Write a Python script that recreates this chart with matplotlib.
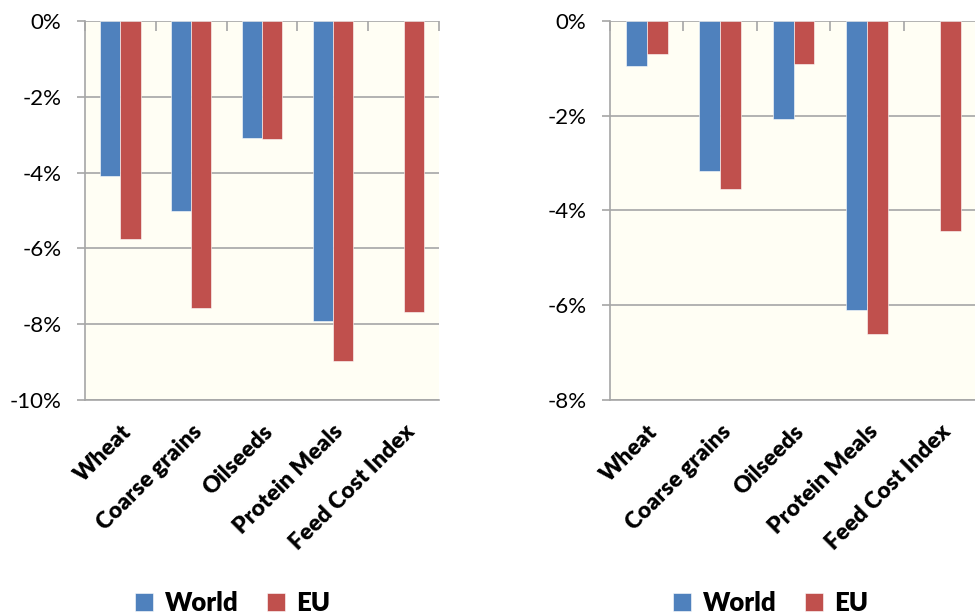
import matplotlib.pyplot as plt
import numpy as np
from matplotlib.ticker import FixedLocator

plt.rcParams['font.family'] = ['Lato', 'DejaVu Sans']

# Data (percent change); World has no Feed Cost Index bar
categories = ['Wheat', 'Coarse grains', 'Oilseeds', 'Protein Meals', 'Feed Cost Index']
world_left = [-4.1, -5.0, -3.1, -7.92, np.nan]
eu_left = [-5.75, -7.57, -3.12, -8.97, -7.68]
world_right = [-0.95, -3.16, -2.08, -6.10, np.nan]
eu_right = [-0.70, -3.56, -0.91, -6.61, -4.44]

blue = '#4F81BD'
red = '#C0504D'
grid_col = '#A6A6A6'
bg = '#FFFEF4'

fig = plt.figure(figsize=(9.75, 6.15), dpi=100)
ax1 = fig.add_axes([85 / 975, 1 - 400 / 615, 354 / 975, 379 / 615])
ax2 = fig.add_axes([610 / 975, 1 - 400 / 615, 367 / 975, 379.3 / 615])


def draw(ax, world, eu, ymin, legend_x):
    x = np.arange(len(categories))
    w = 0.285
    ax.set_facecolor(bg)
    ax.bar(x - w / 2, world, w, color=blue, edgecolor='white', linewidth=0.4, label='World', zorder=3)
    ax.bar(x + w / 2, eu, w, color=red, edgecolor='white', linewidth=0.4, label='EU', zorder=3)
    ax.set_xlim(-0.5, len(categories) - 0.5)
    ax.set_ylim(ymin, 0)
    yt = np.arange(ymin, 0.1, 2)
    ax.set_yticks(yt)
    ax.set_yticklabels(['%d%%' % v for v in yt], fontsize=16)
    ax.yaxis.grid(True, color=grid_col, linewidth=1.2, zorder=1)
    ax.set_axisbelow(True)
    for s in ['top', 'right']:
        ax.spines[s].set_visible(False)
    for s in ['left', 'bottom']:
        ax.spines[s].set_color(grid_col)
        ax.spines[s].set_linewidth(1.2)
    ax.tick_params(axis='y', colors=grid_col, labelcolor='black', length=6, width=1.2, pad=11)
    # category labels at the bottom
    ax.set_xticks(x)
    ax.set_xticklabels(categories, rotation=45, ha='right', va='top',
                       rotation_mode='anchor', fontsize=16.5, fontweight='heavy')
    ax.tick_params(axis='x', which='major', length=0, pad=15)
    # category tick marks on the zero line
    ax.xaxis.set_minor_locator(FixedLocator(np.arange(-0.5, len(categories), 1)))
    ax.tick_params(axis='x', which='minor', top=True, bottom=False, direction='in',
                   length=7, width=1.2, color=grid_col)
    ax.legend(loc='center', bbox_to_anchor=(legend_x, 12 / 615), bbox_transform=fig.transFigure,
              ncol=2, frameon=False, handlelength=0.7, handleheight=0.7, handletextpad=0.45,
              columnspacing=1.1, prop={'weight': 'heavy', 'size': 18.5})
    return ax


draw(ax1, world_left, eu_left, -10, 233 / 975)
draw(ax2, world_right, eu_right, -8, 771 / 975)

fig.savefig('out.png', dpi=100)
print('1')
